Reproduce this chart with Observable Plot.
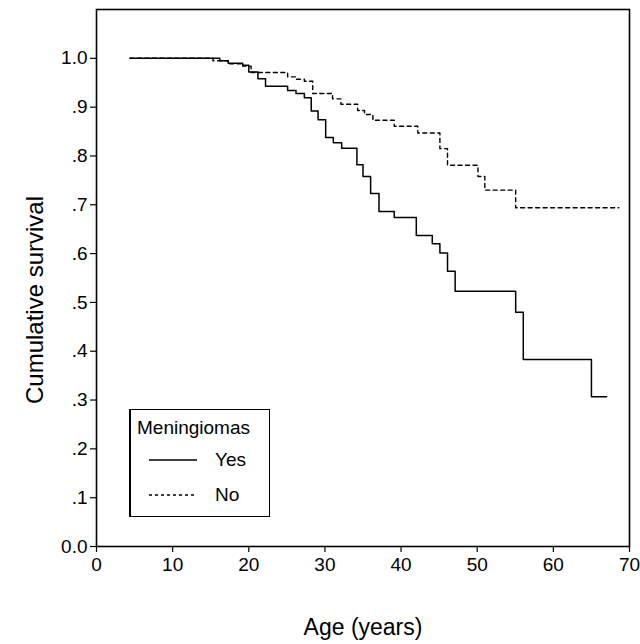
<!DOCTYPE html>
<html>
<head>
<meta charset="utf-8">
<script src="https://cdn.jsdelivr.net/npm/d3@7"></script>
<script src="https://cdn.jsdelivr.net/npm/@observablehq/plot@0.6"></script>
<style>
  html, body { margin: 0; padding: 0; background: #fff; }
  #wrap { position: relative; width: 640px; height: 644px; font-family: "Liberation Sans", Arial, sans-serif; }
  #legend { position: absolute; left: 129px; top: 409px; width: 138px; height: 106px;
    border: 1.5px solid #000; border-left-width: 2px; background: #fff; color: #000; }
  #legend .title { position: absolute; left: 6px; top: 7px; font-size: 19px; }
  #legend .row { position: absolute; left: 18px; font-size: 19px; display: flex; align-items: center; }
  #legend .row span { margin-left: 18px; }
</style>
</head>
<body>
<div id="wrap"></div>
<script>
// Kaplan–Meier steps
const ageYes  = [4.4, 16.2, 17.3, 19.2, 20.0, 21.2, 22.2, 25.1, 26.2, 27.3, 28.2, 29.1, 30.1, 31.1, 32.2, 34.2, 35.0, 36.0, 37.1, 39.1, 42.0, 44.1, 45.1, 46.1, 47.1, 55.05, 56.05, 65.0, 67.0];
const survYes = [1.0, 0.995, 0.990, 0.986, 0.972, 0.958, 0.943, 0.934, 0.928, 0.919, 0.892, 0.874, 0.838, 0.827, 0.816, 0.782, 0.758, 0.723, 0.686, 0.674, 0.637, 0.620, 0.601, 0.564, 0.523, 0.480, 0.383, 0.307, 0.307];
const ageNo   = [4.4, 15.3, 17.3, 19.2, 20.3, 25.1, 26.2, 27.3, 28.4, 31.0, 32.1, 34.3, 35.2, 36.3, 39.1, 42.2, 45.1, 46.1, 50.1, 51.0, 55.05, 68.6];
const survNo  = [1.0, 0.995, 0.989, 0.984, 0.971, 0.962, 0.957, 0.953, 0.928, 0.917, 0.906, 0.893, 0.885, 0.873, 0.861, 0.847, 0.815, 0.781, 0.758, 0.730, 0.694, 0.694];
const xTicks = [0, 10, 20, 30, 40, 50, 60, 70];
const yTicks = [0, 0.1, 0.2, 0.3, 0.4, 0.5, 0.6, 0.7, 0.8, 0.9, 1.0];
const groups = ["Yes", "No"];

const yes = ageYes.map((a, i) => ({age: a, surv: survYes[i], group: groups[0]}));
const no  = ageNo.map((a, i) => ({age: a, surv: survNo[i], group: groups[1]}));

const yFmt = d => d === 0 ? "0.0" : d === 1 ? "1.0" : d3.format(".1f")(d).replace(/^0/, "");

const chart = Plot.plot({
  width: 640,
  height: 644,
  marginLeft: 96,
  marginRight: 11,
  marginTop: 9,
  marginBottom: 98,
  style: {fontFamily: "Liberation Sans, Arial, sans-serif", fontSize: "19px", color: "#000", background: "#fff"},
  x: {domain: [0, 70], ticks: xTicks, label: null},
  y: {domain: [0, 1.1], ticks: yTicks, label: null, tickFormat: yFmt},
  marks: [
    Plot.frame({stroke: "#000", strokeWidth: 1.6}),
    Plot.axisX({ticks: xTicks, tickSize: 6, tickPadding: 5, fontSize: 19, stroke: "#000", strokeWidth: 1.2}),
    Plot.axisY({ticks: yTicks, tickSize: 6, tickPadding: 3, fontSize: 19, tickFormat: yFmt, stroke: "#000", strokeWidth: 1.2}),
    Plot.line(no, {x: "age", y: "surv", curve: "step-after", stroke: "#000", strokeWidth: 1.4, strokeDasharray: "4,3.5"}),
    Plot.line(yes, {x: "age", y: "surv", curve: "step-after", stroke: "#000", strokeWidth: 1.5}),
    Plot.text(["Age (years)"], {frameAnchor: "bottom", dy: 88, fontSize: 23, fill: "#000"}),
    Plot.text(["Cumulative survival"], {frameAnchor: "left", textAnchor: "middle", dx: -61, dy: 22, rotate: -90, fontSize: 24, fill: "#000"})
  ]
});
const wrap = document.getElementById("wrap");
wrap.appendChild(chart);

const legend = document.createElement("div");
legend.id = "legend";
legend.innerHTML = `
  <div class="title">Meningiomas</div>
  <div class="row" style="top:39px"><svg width="48" height="4"><line x1="0" y1="2" x2="48" y2="2" stroke="#000" stroke-width="1.5"/></svg><span>${groups[0]}</span></div>
  <div class="row" style="top:74px"><svg width="48" height="4"><line x1="0" y1="2" x2="48" y2="2" stroke="#000" stroke-width="1.4" stroke-dasharray="3,3"/></svg><span>${groups[1]}</span></div>`;
wrap.appendChild(legend);
</script>
</body>
</html>
